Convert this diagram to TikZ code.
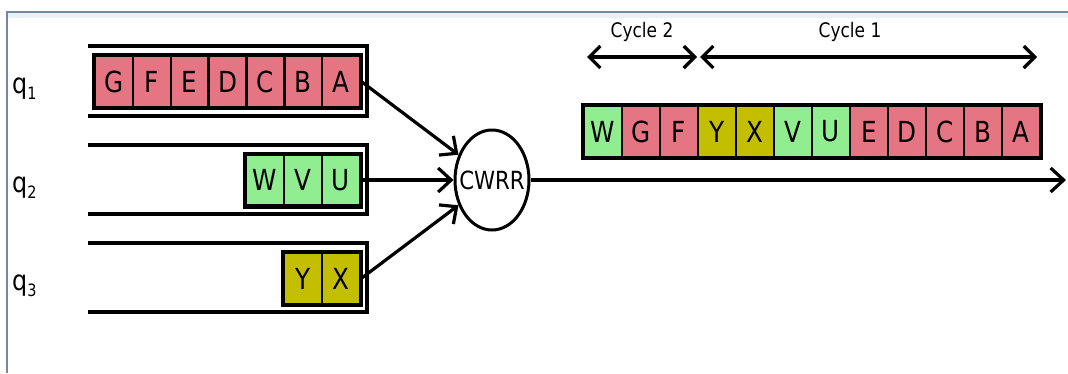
\documentclass[tikz,border=0pt]{standalone}
\usepackage{fontspec}
\setmainfont{DejaVu Sans}[FakeStretch=0.85]
\usetikzlibrary{arrows.meta,shapes.geometric}
\definecolor{cellred}{RGB}{229,117,131}
\definecolor{cellgreen}{RGB}{144,238,144}
\definecolor{cellolive}{RGB}{196,190,0}
\definecolor{framegrey}{RGB}{120,135,160}
\definecolor{framestrip}{RGB}{232,240,250}
\begin{document}
\begin{tikzpicture}[x=1pt,y=-1pt,
  cell/.style={draw, line width=2.4pt, minimum width=37.9pt, minimum height=51pt,
    inner sep=0pt, font=\fontsize{29}{29}\selectfont},
  rowframe/.style={draw, line width=3.6pt},
  queue/.style={line width=3.6pt},
  flow/.style={line width=3.2pt, -{Straight Barb[length=13pt,width=24pt]}},
  span/.style={line width=3.2pt, {Straight Barb[length=11pt,width=22pt]}-{Straight Barb[length=11pt,width=22pt]}},
  qlabel/.style={anchor=base west, inner sep=0pt, font=\fontsize{28}{28}\selectfont},
  cyclelabel/.style={inner sep=0pt, font=\fontsize{20}{20}\selectfont}]

% canvas and window frame
\useasboundingbox (0,0) rectangle (1068,373);
\fill[white] (0,0) rectangle (1068,373);
\fill[framestrip] (8,13) rectangle (1068,18);
\draw[framegrey, line width=1.5pt] (7,373) -- (7,12) -- (1068,12);

% queue channels
\draw[queue] (88,46) -- (367,46) -- (367,116) -- (88,116);
\draw[queue] (88,145) -- (367,145) -- (367,214) -- (88,214);
\draw[queue] (88,243) -- (367,243) -- (367,312) -- (88,312);

% queue labels
\node[qlabel] (l1) at (12,93) {q\raisebox{-6pt}{\fontsize{17}{17}\selectfont 1}};
\node[qlabel] (l2) at (12,192) {q\raisebox{-6pt}{\fontsize{17}{17}\selectfont 2}};
\node[qlabel] (l3) at (12,290) {q\raisebox{-6pt}{\fontsize{17}{17}\selectfont 3}};

% queue 1 contents
\foreach \l [count=\i] in {G,F,E,D,C,B,A}
  \node[cell, fill=cellred] (qa\i) at ({114+37.86*(\i-1)},81.5) {\l};
\draw[rowframe] (qa1.north west) rectangle (qa7.south east);

% queue 2 contents
\foreach \l [count=\i] in {W,V,U}
  \node[cell, fill=cellgreen] (qb\i) at ({265+38*(\i-1)},180) {\l};
\draw[rowframe] (qb1.north west) rectangle (qb3.south east);

% queue 3 contents
\foreach \l [count=\i] in {Y,X}
  \node[cell, fill=cellolive] (qc\i) at ({303+38*(\i-1)},278.5) {\l};
\draw[rowframe] (qc1.north west) rectangle (qc2.south east);

% scheduler
\node[ellipse, draw, line width=3pt, minimum width=74pt, minimum height=100pt,
  inner sep=0pt, label={[font=\fontsize{25}{25}\selectfont, inner sep=0pt]center:CWRR}]
  (cwrr) at (492,180) {};

\draw[flow] (qa7.east) -- (cwrr);
\draw[flow] (qb3.east) -- (cwrr.west);
\draw[flow] (qc2.east) -- (cwrr);

\coordinate (out) at (1066,180);
\draw[flow] (cwrr.east) -- (out);

% output sequence
\foreach \l/\c [count=\i] in {W/cellgreen,G/cellred,F/cellred,Y/cellolive,X/cellolive,
    V/cellgreen,U/cellgreen,E/cellred,D/cellred,C/cellred,B/cellred,A/cellred}
  \node[cell, fill=\c] (o\i) at ({603+38*(\i-1)},131.5) {\l};
\draw[rowframe] (o1.north west) rectangle (o12.south east);

% cycle spans
\coordinate (c2a) at (587,57);
\coordinate (c2b) at (697,57);
\coordinate (c1a) at (700,57);
\coordinate (c1b) at (1037,57);
\draw[span] (c2a) -- (c2b);
\draw[span] (c1a) -- (c1b);
\node[cyclelabel] (cy2) at (642,32) {Cycle 2};
\node[cyclelabel] (cy1) at (850,32) {Cycle 1};
\end{tikzpicture}
\end{document}
